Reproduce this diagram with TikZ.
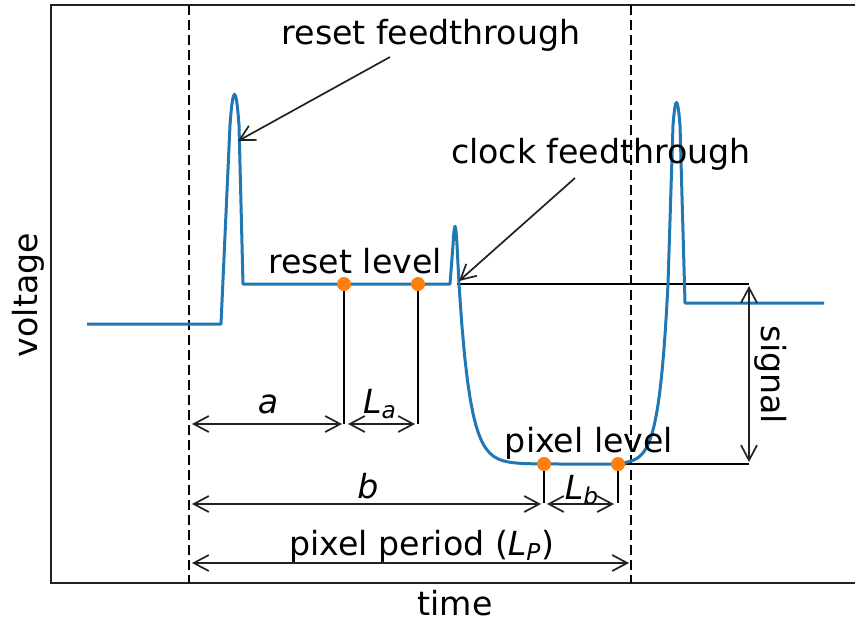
\documentclass[tikz,border=0pt]{standalone}
\usepackage{fontspec}
\setmainfont{DejaVu Sans}
\usetikzlibrary{arrows.meta}
\definecolor{traceblue}{HTML}{1F77B4}
\definecolor{sampleorange}{HTML}{FF7F0E}
\definecolor{darkline}{HTML}{222222}
\tikzset{
  frameline/.style={line width=0.9pt, draw=darkline},
  period/.style={dash pattern=on 5pt off 2.5pt, line width=1.4pt, draw=black},
  trace/.style={line width=1.5pt, draw=traceblue, line join=round},
  levelline/.style={line width=1.3pt, draw=black},
  tickline/.style={line width=1.3pt, draw=black},
  sampdot/.style={circle, fill=sampleorange, inner sep=0pt, minimum size=7pt},
  dimarrow/.style={{Straight Barb[length=7.5pt, width=8pt]}-{Straight Barb[length=7.5pt, width=8pt]}, line width=0.85pt, draw=darkline},
  pointer/.style={-{Straight Barb[length=7.5pt, width=8pt]}, line width=0.85pt, draw=darkline},
  lbl/.style={font=\fontsize{16.6}{20}\selectfont, inner sep=0pt, anchor=base},
}

\begin{document}
\begin{tikzpicture}[x=0.5pt, y=-0.5pt]
\useasboundingbox (0,0) rectangle (855,622);

% ===== Frame and pixel period =====
\draw[frameline] (855,5) -- (51,5) -- (51,583) -- (855,583);
\coordinate (per0top) at (189,5);
\coordinate (per0bot) at (189,583);
\coordinate (per1top) at (631,5);
\coordinate (per1bot) at (631,583);
\draw[period] (per0top) -- (per0bot);
\draw[period] (per1top) -- (per1bot);

% ===== Levels =====
\coordinate (rlevA) at (457,284);
\coordinate (rlevB) at (749,284);
\coordinate (plevA) at (618,464);
\coordinate (plevB) at (749,464);
\draw[levelline] (rlevA) -- (rlevB);
\draw[levelline] (plevA) -- (plevB);

% ===== Video trace =====
\draw[trace] (87,324) -- (221,324) -- (230,125) .. controls (233,84) and (236,84) .. (239,125)
  -- (243,284) -- (450,284) -- (453,245) .. controls (454.5,220) and (455.5,220) .. (457,245) -- (459,284)
  -- plot[domain=459:625, samples=60] (\x,{464-180*exp(-(\x-459)/11)})
  -- plot[domain=625:668, samples=30] (\x,{464-180*exp((\x-668)/9)})
  -- (673,125) .. controls (675.5,95) and (677.5,95) .. (680,125) -- (685,303) -- (824,303);

% ===== Samples =====
\coordinate (r1low) at (344,424);
\coordinate (r2low) at (418,424);
\coordinate (p1low) at (544,503);
\coordinate (p2low) at (618,503);
\draw[tickline] (344,284) -- (r1low);
\draw[tickline] (418,284) -- (r2low);
\draw[tickline] (544,464) -- (p1low);
\draw[tickline] (618,464) -- (p2low);
\node[sampdot] (r1) at (344,284) {};
\node[sampdot] (r2) at (418,284) {};
\node[sampdot] (p1) at (544,464) {};
\node[sampdot] (p2) at (618,464) {};

% ===== Dimensions =====
\coordinate (aL) at (192,424);   \coordinate (aR) at (342,424);
\coordinate (laL) at (348,424);  \coordinate (laR) at (415,424);
\coordinate (bL) at (192,504);   \coordinate (bR) at (541,504);
\coordinate (lbL) at (547,504);  \coordinate (lbR) at (614,504);
\coordinate (lpL) at (192,563);  \coordinate (lpR) at (629,563);
\coordinate (sigT) at (749,286); \coordinate (sigB) at (749,462);
\draw[dimarrow] (aL) -- (aR);
\draw[dimarrow] (laL) -- (laR);
\draw[dimarrow] (bL) -- (bR);
\draw[dimarrow] (lbL) -- (lbR);
\draw[dimarrow] (lpL) -- (lpR);
\draw[dimarrow] (sigT) -- (sigB);

\node[lbl] (la) at (268,413) {\textit{a}};
\node[lbl] (lLa) at (380,413) {\textit{L\textsubscript{a}}};
\node[lbl] (lb) at (368,498) {\textit{b}};
\node[lbl] (lLb) at (582,499) {\textit{L\textsubscript{b}}};
\node[lbl] (lLp) at (422,555) {pixel period (\textit{L\textsubscript{P}})};
\node[lbl, anchor=center, rotate=-90] (lsig) at (771,375) {signal};

% ===== Annotations =====
\node[lbl] (resetlvl) at (355,273) {reset level};
\node[lbl] (pixlvl) at (589,452) {pixel level};
\node[lbl] (resetft) at (431,44) {reset feedthrough};
\node[lbl] (clockft) at (601,163) {clock feedthrough};
\coordinate (rftTail) at (390,57);  \coordinate (rftTip) at (238,141);
\coordinate (cftTail) at (575,178); \coordinate (cftTip) at (459,281);
\draw[pointer] (rftTail) -- (rftTip);
\draw[pointer] (cftTail) -- (cftTip);

% ===== Axis labels =====
\node[lbl] (xlab) at (455,615) {time};
\node[lbl, anchor=center, rotate=90] (ylab) at (28,295) {voltage};

\end{tikzpicture}
\end{document}
